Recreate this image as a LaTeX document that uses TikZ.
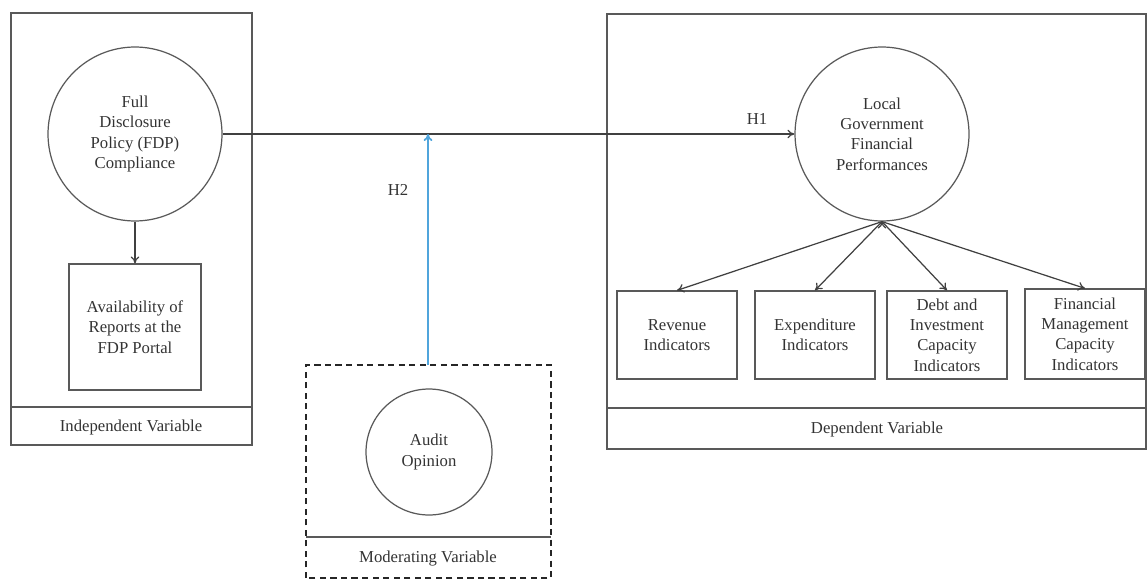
\documentclass[tikz,border=0pt]{standalone}
\usepackage{fontspec}
\setmainfont{Liberation Serif}
\usetikzlibrary{arrows.meta}

\begin{document}
\begin{tikzpicture}[x=0.02cm,y=-0.02cm,>={To[length=4pt,width=5pt]},thick,
  every node/.style={font=\fontsize{9.5}{11.5}\selectfont,align=center,text=black!80},
  frame/.style={draw=black!65,line width=0.7pt},
  var node/.style={circle,draw=black!65,line width=0.7pt,minimum size=3.48cm,inner sep=0pt},
  ind node/.style={rectangle,draw=black!65,line width=0.7pt,minimum width=2.4cm,minimum height=1.76cm,inner sep=1pt},
  link/.style={->,draw=black!75,line width=0.7pt}]
  \useasboundingbox (0,0) rectangle (1148,581);

  % containers
  \draw[frame] (11,13) rectangle (252,445);
  \draw[frame] (11,407) -- (252,407);
  \draw[frame] (607,14) rectangle (1146,449);
  \draw[frame] (607,408) -- (1146,408);
  \draw[black!85,line width=1pt,dash pattern=on 3.5pt off 2.5pt] (306,578) -- (306,365) -- (551,365) -- (551,578) -- cycle;
  \draw[frame] (306,537) -- (551,537);

  \node (indlabel) at (131,427) {Independent Variable};
  \node (deplabel) at (877,429) {Dependent Variable};
  \node (modlabel) at (428,559) {Moderating Variable};

  \node[var node] (fdp) at (135,134) {Full\\Disclosure\\Policy (FDP)\\Compliance};
  \node[ind node,minimum width=2.64cm,minimum height=2.52cm] (avail) at (135,327) {Availability of\\Reports at the\\FDP Portal};
  \node[var node] (lgfp) at (882,134) {Local\\Government\\Financial\\Performances};
  \node[var node,minimum size=2.52cm] (audit) at (429,452) {Audit\\Opinion};

  \node[ind node] (rev) at (677,335) {Revenue\\Indicators};
  \node[ind node] (exp) at (815,335) {Expenditure\\Indicators};
  \node[ind node] (debt) at (947,335) {Debt and\\Investment\\Capacity\\Indicators};
  \node[ind node,minimum height=1.8cm] (fin) at (1085,334) {Financial\\Management\\Capacity\\Indicators};

  \coordinate (mod) at (428,134);
  \coordinate (modtop) at (428,365);

\path[link]
  (fdp) edge (avail)
  (fdp) edge (lgfp)
  (lgfp.south) edge (rev.north)
  (lgfp.south) edge (exp.north)
  (lgfp.south) edge (debt.north)
  (lgfp.south) edge (fin.north)
;
  \draw[->,draw={rgb,255:red,80;green,165;blue,220},line width=1pt] (modtop) -- (mod);

  \node (h1) at (757,119) {H1};
  \node (h2) at (398,190) {H2};
\end{tikzpicture}
\end{document}
